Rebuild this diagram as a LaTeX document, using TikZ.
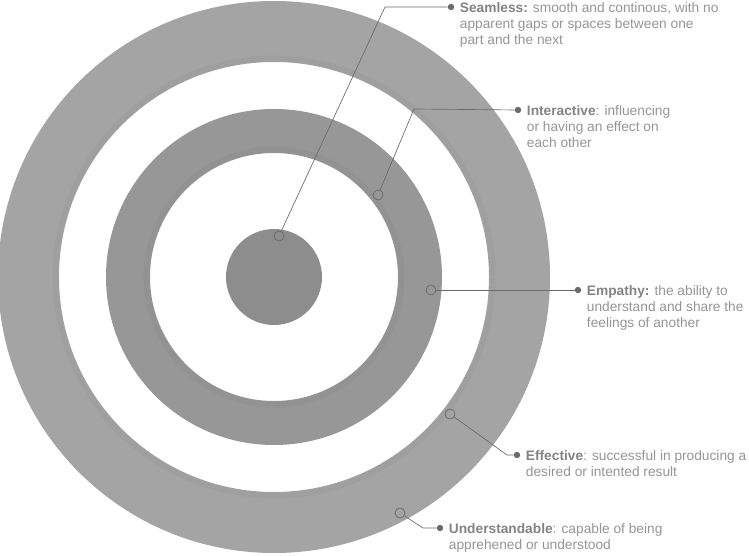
\documentclass[tikz,border=0pt]{standalone}
\usepackage{fontspec}
\setmainfont{Liberation Sans}
\definecolor{outerring}{HTML}{A4A4A4}
\definecolor{midring}{HTML}{979797}
\definecolor{core}{HTML}{8D8D8D}
\definecolor{leader}{HTML}{6A6A6A}
\definecolor{notegray}{HTML}{959595}
\definecolor{termgray}{HTML}{838383}
\tikzset{
  marker/.style={circle, draw=leader, line width=0.55pt, minimum size=7.5pt, inner sep=0pt},
  tipdot/.style={circle, fill=leader, minimum size=4.8pt, inner sep=0pt},
  leaderline/.style={draw=leader, line width=0.5pt},
  note/.style={anchor=north west, align=left, text=notegray, inner sep=0pt,
    font=\fontsize{10.3}{12}\selectfont},
}
\newcommand{\term}[1]{\textbf{\color{termgray}#1}}
\begin{document}
\begin{tikzpicture}[x=0.75pt, y=-0.75pt]
    \useasboundingbox (0,0) rectangle (749,556);
    \coordinate (c) at (274,277);

    % Rings
    \fill[outerring, even odd rule] (c) circle (276) (c) circle (215);
    \fill[midring, even odd rule] (c) circle (168) (c) circle (124);
    \fill[core] (c) circle (48);
    % soft shade at the inner edges
    \foreach \r in {1,...,6} {
        \draw[black, opacity=0.025, line width=0.75pt] (c) circle (215+\r);
        \draw[black, opacity=0.025, line width=0.75pt] (c) circle (124+\r);
    }

    % Markers on the rings
    \node[marker] (m1) at (279,236) {};
    \node[marker] (m2) at (378,195) {};
    \node[marker] (m3) at (431,290) {};
    \node[marker] (m4) at (450,414) {};
    \node[marker] (m5) at (400,513) {};

    % Leader ends
    \node[tipdot] (d1) at (451,7) {};
    \node[tipdot] (d2) at (518,110) {};
    \node[tipdot] (d3) at (578,290) {};
    \node[tipdot] (d4) at (517,455) {};
    \node[tipdot] (d5) at (440,528) {};

    % Bends
    \coordinate (b1) at (385,7);
    \coordinate (b2) at (414,109);
    \coordinate (b4) at (507,455);
    \coordinate (b5) at (423,528);

    \draw[leaderline] (m1) -- (b1) -- (d1);
    \draw[leaderline] (m2) -- (b2) -- (d2);
    \draw[leaderline] (m3) -- (d3);
    \draw[leaderline] (m4) -- (b4) -- (d4);
    \draw[leaderline] (m5) -- (b5) -- (d5);

    % Labels
    \node[note] (t1) at ([xshift=6.5pt,yshift=3.6pt]d1.center)
        {\term{Seamless:} smooth and continous, with no\\apparent gaps or spaces between one\\part and the next};
    \node[note] (t2) at ([xshift=6.5pt,yshift=3.6pt]d2.center)
        {\term{Interactive}: influencing\\or having an effect on\\each other};
    \node[note] (t3) at ([xshift=6.5pt,yshift=3.6pt]d3.center)
        {\term{Empathy:} the ability to\\understand and share the\\feelings of another};
    \node[note] (t4) at ([xshift=6.5pt,yshift=3.6pt]d4.center)
        {\term{Effective}: successful in producing a\\desired or intented result};
    \node[note] (t5) at ([xshift=6.5pt,yshift=3.6pt]d5.center)
        {\term{Understandable}: capable of being\\apprehened or understood};
\end{tikzpicture}
\end{document}
